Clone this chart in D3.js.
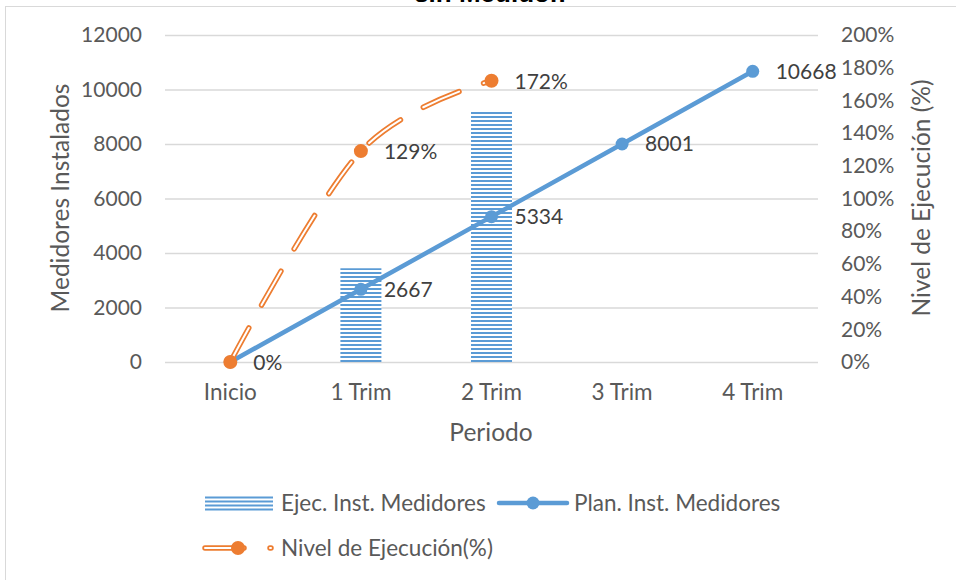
<!DOCTYPE html>
<html>
<head>
<meta charset="utf-8">
<script src="https://cdn.jsdelivr.net/npm/d3@7"></script>
<style>
  html, body { margin: 0; padding: 0; background: #fff; }
  svg { display: block; font-family: Lato, "Open Sans", sans-serif; }
</style>
</head>
<body>
<svg id="chart" width="956" height="580"></svg>
<script>
// Periods and series
const categories = ["Inicio", "1 Trim", "2 Trim", "3 Trim", "4 Trim"];
const ejecutado = [null, 3440, 9174, null, null];          // Ejec. Inst. Medidores
const planificado = [0, 2667, 5334, 8001, 10668];          // Plan. Inst. Medidores
const nivel = [0, 1.29, 1.72];                              // Nivel de Ejecución (fraction)
const leftTicks = [0, 2000, 4000, 6000, 8000, 10000, 12000];
const rightTicks = [0, 0.2, 0.4, 0.6, 0.8, 1.0, 1.2, 1.4, 1.6, 1.8, 2.0];

const BLUE = "#5B9BD5", ORANGE = "#ED7D31", TXT = "#595959", LBL = "#404040", GRID = "#D9D9D9";

const svg = d3.select("#chart");

// Chart frame and title
svg.append("rect").attr("x", 5.5).attr("y", 6.5).attr("width", 1000).attr("height", 1000)
  .attr("fill", "none").attr("stroke", GRID).attr("stroke-width", 1);
svg.append("text").attr("x", 490).attr("y", 1.5).attr("text-anchor", "middle")
  .attr("font-family", "'Liberation Sans', Arial, sans-serif")
  .attr("font-weight", "bold").attr("font-size", 26).attr("fill", "#000")
  .text("sin Medidor.");

const x = d3.scaleBand().domain(categories).range([165, 818]);
const y = d3.scaleLinear().domain([0, 12000]).range([362, 35]);
const y2 = d3.scaleLinear().domain([0, 2]).range([362, 35]);
const cx = c => x(c) + x.bandwidth() / 2;

// Gridlines
svg.append("g").attr("transform", `translate(${x.range()[0]},0)`)
  .call(d3.axisLeft(y).tickValues(leftTicks).tickSize(-(x.range()[1] - x.range()[0])).tickFormat(""))
  .call(g => g.select(".domain").remove())
  .call(g => g.selectAll("line").attr("stroke", GRID).attr("stroke-width", 1.3));

// Left axis
svg.append("g").attr("transform", "translate(165,0)")
  .call(d3.axisLeft(y).tickValues(leftTicks).tickSize(0).tickPadding(23).tickFormat(d3.format("d")))
  .call(g => g.select(".domain").remove())
  .call(g => g.selectAll("text").attr("font-size", 21).attr("fill", TXT).attr("font-family", "Lato"));

// Right axis
svg.append("g").attr("transform", "translate(818,0)")
  .call(d3.axisRight(y2).tickValues(rightTicks).tickSize(0).tickPadding(23).tickFormat(d3.format(".0%")))
  .call(g => g.select(".domain").remove())
  .call(g => g.selectAll("text").attr("font-size", 21).attr("fill", TXT).attr("font-family", "Lato"));

// Category axis
svg.append("g").attr("transform", "translate(0,362)")
  .call(d3.axisBottom(x).tickSize(0).tickPadding(22))
  .call(g => g.select(".domain").remove())
  .call(g => g.selectAll("text").attr("font-size", 22.5).attr("fill", TXT).attr("font-family", "Lato"));

// Axis titles
svg.append("text").attr("transform", "translate(69,198) rotate(-90)").attr("text-anchor", "middle")
  .attr("font-size", 24.5).attr("fill", TXT).text("Medidores Instalados");
svg.append("text").attr("transform", "translate(930,198) rotate(-90)").attr("text-anchor", "middle")
  .attr("font-size", 24.5).attr("fill", TXT).text("Nivel de Ejecución (%)");
svg.append("text").attr("x", 491).attr("y", 441).attr("text-anchor", "middle")
  .attr("font-size", 24.5).attr("fill", TXT).text("Periodo");

// Horizontal stripe fill for the executed bars
const defs = svg.append("defs");
const pat = defs.append("pattern").attr("id", "stripes").attr("patternUnits", "userSpaceOnUse")
  .attr("width", 8).attr("height", 4);
pat.append("rect").attr("width", 8).attr("height", 4).attr("fill", "#fff");
pat.append("rect").attr("y", 0).attr("width", 8).attr("height", 2).attr("fill", BLUE);

const barW = x.bandwidth() * 0.314;
svg.append("g").selectAll("rect")
  .data(categories.map((c, i) => ({ c, v: ejecutado[i] })).filter(d => d.v != null))
  .join("rect")
  .attr("x", d => cx(d.c) - barW / 2)
  .attr("y", d => y(d.v))
  .attr("width", barW)
  .attr("height", d => y(0) - y(d.v))
  .attr("fill", "url(#stripes)");

// Planned line
const planData = categories.map((c, i) => ({ c, v: planificado[i] }));
svg.append("path").datum(planData)
  .attr("fill", "none").attr("stroke", BLUE).attr("stroke-width", 4.5).attr("stroke-linecap", "round")
  .attr("d", d3.line().x(d => cx(d.c)).y(d => y(d.v)));
svg.append("g").selectAll("circle").data(planData).join("circle")
  .attr("cx", d => cx(d.c)).attr("cy", d => y(d.v)).attr("r", 6.5).attr("fill", BLUE);
svg.append("g").selectAll("text").data(planData.filter(d => d.v > 0)).join("text")
  .attr("x", d => cx(d.c) + 23).attr("y", d => y(d.v)).attr("dy", "0.35em")
  .attr("font-size", 21).attr("fill", LBL).text(d => d.v);

// Execution level: smoothed double dashed line on the secondary axis
const nivelData = nivel.map((v, i) => ({ c: categories[i], v }));
const smooth = d3.line().x(d => cx(d.c)).y(d => y2(d.v)).curve(d3.curveCatmullRom.alpha(0));
const dash = "39 26";
svg.append("path").datum(nivelData)
  .attr("fill", "none").attr("stroke", ORANGE).attr("stroke-width", 5.5)
  .attr("stroke-linecap", "round").attr("stroke-dasharray", dash).attr("d", smooth);
svg.append("path").datum(nivelData)
  .attr("fill", "none").attr("stroke", "#fff").attr("stroke-width", 2)
  .attr("stroke-linecap", "round").attr("stroke-dasharray", dash).attr("d", smooth);
svg.append("g").selectAll("circle").data(nivelData).join("circle")
  .attr("cx", d => cx(d.c)).attr("cy", d => y2(d.v)).attr("r", 7).attr("fill", ORANGE);
svg.append("g").selectAll("text").data(nivelData).join("text")
  .attr("x", d => cx(d.c) + 23).attr("y", d => y2(d.v)).attr("dy", "0.4em")
  .attr("font-size", 21).attr("fill", LBL).text(d => d3.format(".0%")(d.v));

// Legend
const lg = svg.append("g").attr("font-size", 22.5).attr("fill", TXT);
[497.5, 501.5, 505.5, 509.5].forEach(yy =>
  lg.append("line").attr("x1", 205).attr("x2", 273).attr("y1", yy).attr("y2", yy)
    .attr("stroke", BLUE).attr("stroke-width", 2));
lg.append("text").attr("x", 281).attr("y", 503).attr("dy", "0.35em").text("Ejec. Inst. Medidores");

lg.append("line").attr("x1", 499).attr("x2", 567).attr("y1", 503).attr("y2", 503)
  .attr("stroke", BLUE).attr("stroke-width", 4.5).attr("stroke-linecap", "round");
lg.append("circle").attr("cx", 533).attr("cy", 503).attr("r", 6.5).attr("fill", BLUE);
lg.append("text").attr("x", 574).attr("y", 503).attr("dy", "0.35em").text("Plan. Inst. Medidores");

lg.append("line").attr("x1", 205).attr("x2", 271).attr("y1", 548).attr("y2", 548)
  .attr("stroke", ORANGE).attr("stroke-width", 5.5).attr("stroke-linecap", "round").attr("stroke-dasharray", dash);
lg.append("line").attr("x1", 205).attr("x2", 271).attr("y1", 548).attr("y2", 548)
  .attr("stroke", "#fff").attr("stroke-width", 2).attr("stroke-linecap", "round").attr("stroke-dasharray", dash);
lg.append("circle").attr("cx", 238).attr("cy", 548).attr("r", 7).attr("fill", ORANGE);
lg.append("text").attr("x", 281).attr("y", 548).attr("dy", "0.35em").text("Nivel de Ejecución(%)");
</script>
</body>
</html>
